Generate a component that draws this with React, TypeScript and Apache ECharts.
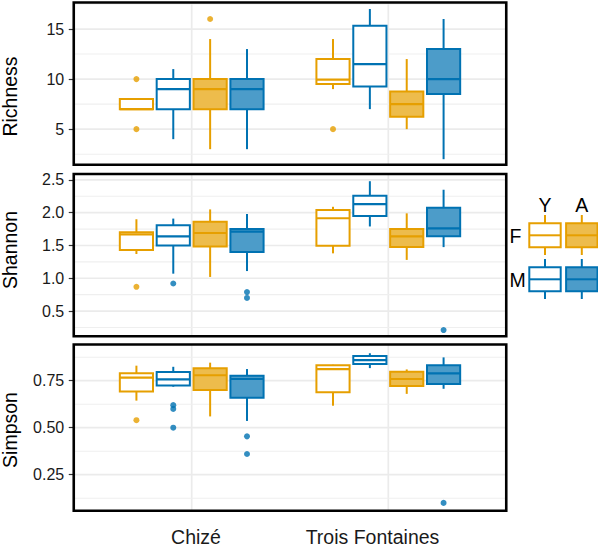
import React, { useEffect, useRef } from "react";
import * as echarts from "echarts";

const FONT = '"Liberation Sans", Arial, Helvetica, sans-serif';

const categories = ["Chizé", "Trois Fontaines"];
const panelTitles = ["Richness", "Shannon", "Simpson"];
const groupSex = ["F", "M", "F", "M"];
const groupAge = ["Y", "Y", "A", "A"];
const sexLevels = ["F", "M"];
const ageLevels = ["Y", "A"];

// [lower whisker, Q1, median, Q3, upper whisker] for Chizé, Trois Fontaines
const richnessFY = [[7, 7, 7, 8, 8], [9, 9.5, 9.95, 12, 14]];
const richnessMY = [[4, 7, 9, 10, 11], [7, 9.27, 11.5, 15.33, 17]];
const richnessFA = [[3, 7, 9, 10, 14], [5, 6.25, 7.5, 8.75, 12]];
const richnessMA = [[3, 7, 9, 10, 13], [2, 8.5, 10, 13, 16]];
const richnessOutFY = [[10, 5], [5]];
const richnessOutMY = [[], []];
const richnessOutFA = [[16], []];
const richnessOutMA = [[], []];

const shannonFY = [[1.37, 1.43, 1.67, 1.7, 1.9], [1.38, 1.495, 1.915, 2.04, 2.09]];
const shannonMY = [[1.07, 1.5, 1.64, 1.81, 1.91], [1.79, 1.95, 2.13, 2.26, 2.48]];
const shannonFA = [[1.02, 1.485, 1.69, 1.86, 2.05], [1.28, 1.475, 1.64, 1.75, 1.99]];
const shannonMA = [[1.11, 1.4, 1.71, 1.75, 1.98], [1.475, 1.64, 1.76, 2.075, 2.35]];
const shannonOutFY = [[0.87], []];
const shannonOutMY = [[0.92], []];
const shannonOutFA = [[], []];
const shannonOutMA = [[0.79, 0.7], [0.21]];

const simpsonFY = [[0.644, 0.693, 0.766, 0.79, 0.83], [0.617, 0.688, 0.812, 0.832, 0.835]];
const simpsonMY = [[0.718, 0.725, 0.757, 0.796, 0.824], [0.817, 0.839, 0.86, 0.881, 0.896]];
const simpsonFA = [[0.56, 0.7, 0.779, 0.816, 0.846], [0.68, 0.722, 0.759, 0.798, 0.81]];
const simpsonMA = [[0.536, 0.66, 0.759, 0.777, 0.812], [0.707, 0.732, 0.789, 0.832, 0.874]];
const simpsonOutFY = [[0.54], []];
const simpsonOutMY = [[0.62, 0.6, 0.5], []];
const simpsonOutFA = [[], []];
const simpsonOutMA = [[0.454, 0.36], [0.1]];

const richnessTicks = [5, 10, 15];
const richnessMinor = [2.5, 7.5, 12.5, 17.5];
const shannonTicks = [0.5, 1.0, 1.5, 2.0, 2.5];
const shannonMinor = [0.25, 0.75, 1.25, 1.75, 2.25];
const simpsonTicks = [0.25, 0.5, 0.75];
const simpsonMinor = [0.125, 0.375, 0.625, 0.875];

const richnessRange = [1.45, 17.65];
const shannonRange = [0.115, 2.59];
const simpsonRange = [0.0585, 0.9426];
const xRange = [0.4, 2.6];

const ORANGE = "#E69F00";
const BLUE = "#0072B2";
const sexColors = [ORANGE, BLUE];
const fillFor = (sex: number, age: number) =>
  age === 0 ? "#FFFFFF" : sex === 0 ? "rgba(230,159,0,0.7)" : "rgba(0,114,178,0.7)";

const dodge = [-0.28125, -0.09375, 0.09375, 0.28125];
const boxWidth = 0.16875;

const panelLeft = 73.75;
const panelWidth = 432.5;
const panelTops = [2.5, 174, 344.5];
const panelHeights = [162.2, 162.3, 166.2];

const panels = [
  {
    stats: [richnessFY, richnessMY, richnessFA, richnessMA],
    outs: [richnessOutFY, richnessOutMY, richnessOutFA, richnessOutMA],
    ticks: richnessTicks,
    minor: richnessMinor,
    range: richnessRange,
    fmt: (v: number) => String(v),
    titleY: 96.5,
  },
  {
    stats: [shannonFY, shannonMY, shannonFA, shannonMA],
    outs: [shannonOutFY, shannonOutMY, shannonOutFA, shannonOutMA],
    ticks: shannonTicks,
    minor: shannonMinor,
    range: shannonRange,
    fmt: (v: number) => v.toFixed(1),
    titleY: 250,
  },
  {
    stats: [simpsonFY, simpsonMY, simpsonFA, simpsonMA],
    outs: [simpsonOutFY, simpsonOutMY, simpsonOutFA, simpsonOutMA],
    ticks: simpsonTicks,
    minor: simpsonMinor,
    range: simpsonRange,
    fmt: (v: number) => v.toFixed(2),
    titleY: 430,
  },
];

function legendKey(cx: number, top: number, sex: number, age: number) {
  const color = sexColors[sex];
  const fill = fillFor(sex, age);
  const boxTop = top + 8.3;
  const boxH = 24;
  return [
    { type: "line", shape: { x1: cx, y1: top, x2: cx, y2: top + 40 }, style: { stroke: color, lineWidth: 2 } },
    { type: "rect", shape: { x: cx - 15.7, y: boxTop, width: 31.4, height: boxH }, style: { fill: "#FFFFFF", stroke: "none" } },
    { type: "rect", shape: { x: cx - 15.7, y: boxTop, width: 31.4, height: boxH }, style: { fill, stroke: color, lineWidth: 2 } },
    { type: "line", shape: { x1: cx - 15.7, y1: boxTop + boxH / 2, x2: cx + 15.7, y2: boxTop + boxH / 2 }, style: { stroke: color, lineWidth: 2 } },
  ];
}

export default function App() {
  const ref = useRef<HTMLDivElement>(null);
  useEffect(() => {
    if (!ref.current) return;
    const chart = echarts.init(ref.current, null, { renderer: "svg" });
    const grids: any[] = [];
    const xAxes: any[] = [];
    const yAxes: any[] = [];
    const series: any[] = [];
    const graphics: any[] = [];

    panels.forEach((p, pi) => {
      grids.push({
        left: panelLeft,
        width: panelWidth,
        top: panelTops[pi],
        height: panelHeights[pi],
        show: true,
        borderColor: "#000",
        borderWidth: 2.6,
        backgroundColor: "transparent",
        z: 10,
        outerBoundsMode: "none",
        containLabel: false,
      });
      xAxes.push({ type: "value", gridIndex: pi, min: xRange[0], max: xRange[1], show: false });
      yAxes.push({
        type: "value",
        gridIndex: pi,
        min: p.range[0],
        max: p.range[1],
        axisLine: { show: false },
        splitLine: { show: false },
        axisTick: { show: true, customValues: p.ticks, length: 5, lineStyle: { color: "#333", width: 1.2 } },
        axisLabel: {
          customValues: p.ticks,
          formatter: (v: number) => p.fmt(v),
          fontSize: 16,
          fontFamily: FONT,
          color: "#1a1a1a",
          margin: 9.5,
        },
      });
      // vertical gridlines at categories
      series.push({
        type: "custom",
        xAxisIndex: pi,
        yAxisIndex: pi,
        z: 1,
        silent: true,
        data: categories.map((_, i) => [i + 1, p.range[0]]),
        renderItem: (params: any, api: any) => {
          const cs = params.coordSys;
          const x = api.coord([api.value(0), p.range[0]])[0];
          return { type: "line", shape: { x1: x, y1: cs.y, x2: x, y2: cs.y + cs.height }, style: { stroke: "#EBEBEB", lineWidth: 1.7 } };
        },
      });
      // horizontal gridlines
      const hLines = [
        ...p.minor.filter((v) => v > p.range[0] && v < p.range[1]).map((v) => [1, v, 0]),
        ...p.ticks.map((v) => [1, v, 1]),
      ];
      series.push({
        type: "custom",
        xAxisIndex: pi,
        yAxisIndex: pi,
        z: 1,
        silent: true,
        data: hLines,
        renderItem: (params: any, api: any) => {
          const cs = params.coordSys;
          const y = api.coord([1, api.value(1)])[1];
          const major = api.value(2) === 1;
          return {
            type: "line",
            shape: { x1: cs.x, y1: y, x2: cs.x + cs.width, y2: y },
            style: { stroke: major ? "#EBEBEB" : "#EFEFEF", lineWidth: major ? 1.7 : 1.1 },
          };
        },
      });
      // boxes
      p.stats.forEach((stats, g) => {
        const sex = sexLevels.indexOf(groupSex[g]);
        const age = ageLevels.indexOf(groupAge[g]);
        const color = sexColors[sex];
        const fill = fillFor(sex, age);
        series.push({
          type: "custom",
          name: groupSex[g] + "-" + groupAge[g],
          xAxisIndex: pi,
          yAxisIndex: pi,
          z: 3,
          data: stats.map((s, i) => [i + 1, ...s]),
          encode: { x: 0, y: [1, 2, 3, 4, 5] },
          renderItem: (params: any, api: any) => {
            const xc = (api.value(0) as number) + dodge[g];
            const lo = api.coord([xc, api.value(1)]);
            const q1 = api.coord([xc, api.value(2)]);
            const md = api.coord([xc, api.value(3)]);
            const q3 = api.coord([xc, api.value(4)]);
            const hi = api.coord([xc, api.value(5)]);
            const w = api.size([boxWidth, 0])[0];
            const x0 = q1[0] - w / 2;
            return {
              type: "group",
              children: [
                { type: "line", shape: { x1: hi[0], y1: hi[1], x2: q3[0], y2: q3[1] }, style: { stroke: color, lineWidth: 2 } },
                { type: "line", shape: { x1: lo[0], y1: lo[1], x2: q1[0], y2: q1[1] }, style: { stroke: color, lineWidth: 2 } },
                { type: "rect", shape: { x: x0, y: q3[1], width: w, height: q1[1] - q3[1] }, style: { fill: "#FFFFFF", stroke: "none" } },
                { type: "rect", shape: { x: x0, y: q3[1], width: w, height: q1[1] - q3[1] }, style: { fill, stroke: color, lineWidth: 2 } },
                { type: "line", shape: { x1: x0, y1: md[1], x2: x0 + w, y2: md[1] }, style: { stroke: color, lineWidth: 2.2 } },
              ],
            };
          },
        });
        const outData: number[][] = [];
        p.outs[g].forEach((arr, i) => arr.forEach((v) => outData.push([i + 1 + dodge[g], v])));
        series.push({
          type: "scatter",
          xAxisIndex: pi,
          yAxisIndex: pi,
          z: 4,
          symbol: "circle",
          symbolSize: 6,
          silent: true,
          itemStyle: { color, opacity: 0.8 },
          data: outData,
        });
      });
      graphics.push({
        type: "text",
        x: 10,
        y: p.titleY,
        rotation: Math.PI / 2,
        style: {
          text: panelTitles[pi],
          fontSize: 19.5,
          fontFamily: FONT,
          fill: "#000",
          align: "center",
          verticalAlign: "middle",
          textAlign: "center",
          textVerticalAlign: "middle",
        },
      });
    });

    // x category labels
    const xLabelPos = [196, 372.5];
    categories.forEach((c, i) => {
      graphics.push({
        type: "text",
        x: xLabelPos[i],
        y: 536.7,
        style: {
          text: c,
          fontSize: 19.5,
          fontFamily: FONT,
          fill: "#1a1a1a",
          align: "center",
          verticalAlign: "middle",
          textAlign: "center",
          textVerticalAlign: "middle",
        },
      });
    });

    // legend (sex rows x age columns)
    const legCols = [545, 581.8];
    const legRowTops = [215, 259];
    ageLevels.forEach((a, ai) => {
      graphics.push({
        type: "text",
        x: legCols[ai],
        y: 205,
        style: { text: a, fontSize: 19.5, fontFamily: FONT, fill: "#000", align: "center", verticalAlign: "middle", textAlign: "center", textVerticalAlign: "middle" },
      });
    });
    sexLevels.forEach((s, si) => {
      graphics.push({
        type: "text",
        x: 509.5,
        y: legRowTops[si] + 21,
        style: { text: s, fontSize: 19.5, fontFamily: FONT, fill: "#000", align: "left", verticalAlign: "middle", textAlign: "left", textVerticalAlign: "middle" },
      });
      ageLevels.forEach((_, ai) => {
        legendKey(legCols[ai], legRowTops[si], si, ai).forEach((el) => graphics.push(el));
      });
    });

    chart.setOption({
      animation: false,
      backgroundColor: "#FFFFFF",
      grid: grids,
      xAxis: xAxes,
      yAxis: yAxes,
      series,
      graphic: graphics,
    });
    return () => chart.dispose();
  }, []);
  return <div ref={ref} style={{ position: "fixed", left: 0, top: 0, width: 598, height: 549 }} />;
}
